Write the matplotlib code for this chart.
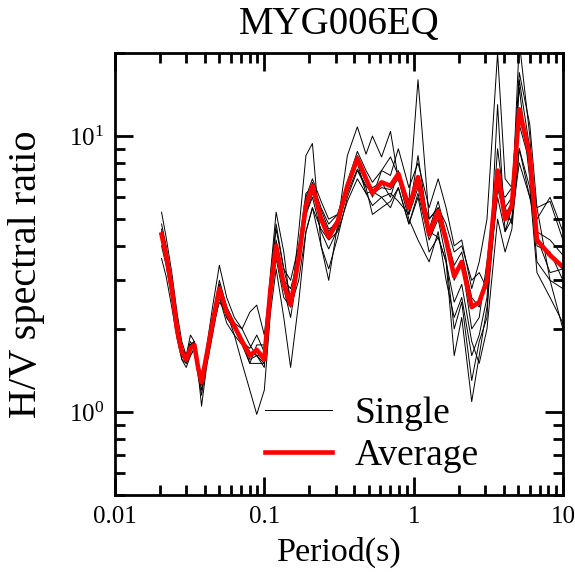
import matplotlib
matplotlib.use('Agg')
import matplotlib.pyplot as plt
from matplotlib.ticker import LogLocator, NullFormatter, FixedLocator, FixedFormatter

plt.rcParams['font.family'] = ['Liberation Serif', 'DejaVu Serif']
plt.rcParams['mathtext.fontset'] = 'custom'
plt.rcParams['mathtext.rm'] = 'Liberation Serif'
plt.rcParams['mathtext.it'] = 'Liberation Serif:italic'

# 周期 (s)
period = [0.0205, 0.022, 0.024, 0.026, 0.028, 0.030, 0.032, 0.034, 0.036, 0.038,
          0.041, 0.045, 0.050, 0.056, 0.063, 0.071, 0.080, 0.089, 0.10, 0.11,
          0.12, 0.135, 0.15, 0.17, 0.19, 0.21, 0.24, 0.27, 0.31, 0.36,
          0.42, 0.48, 0.53, 0.61, 0.70, 0.79, 0.93, 1.07, 1.27, 1.46,
          1.65, 1.87, 2.1, 2.45, 2.75, 3.1, 3.65, 4.1, 4.55, 5.1,
          6.0, 6.7, 8.2, 10.0]

# 平均 H/V
average = [4.4, 3.7, 2.8, 2.0, 1.65, 1.55, 1.7, 1.75, 1.45, 1.28,
           1.6, 2.1, 2.8, 2.3, 2.05, 1.8, 1.6, 1.68, 1.55, 2.8,
           4.0, 2.9, 2.45, 3.6, 5.6, 6.6, 5.0, 4.3, 4.9, 6.6,
           8.3, 7.0, 6.2, 6.8, 6.6, 7.3, 5.5, 7.1, 4.4, 5.35,
           4.2, 3.1, 3.5, 2.4, 2.5, 3.0, 7.5, 5.0, 5.6, 12.5,
           8.5, 4.2, 3.7, 3.35]

# 各記録の H/V
single_1 = [5.3, 4.3, 3.2, 2.3, 1.8, 1.6, 1.9, 1.8, 1.5, 1.3,
            1.7, 2.4, 3.4, 2.6, 2.2, 2.0, 1.75, 1.6, 1.5, 3.2,
            5.3, 3.8, 2.4, 4.5, 8.5, 9.4, 4.0, 3.0, 4.8, 8.5,
            10.8, 8.6, 10.0, 8.4, 10.4, 7.0, 5.0, 4.2, 3.5, 4.5,
            3.0, 2.2, 2.6, 1.6, 1.9, 2.6, 9.0, 5.5, 6.0, 17.0,
            11.0, 5.5, 3.0, 2.8]
single_2 = [4.6, 3.8, 2.9, 2.0, 1.6, 1.5, 1.65, 1.8, 1.4, 1.2,
            1.5, 2.0, 2.5, 2.3, 1.9, 1.5, 1.2, 0.98, 1.2, 2.3,
            3.3, 2.2, 1.45, 2.5, 4.5, 5.5, 4.0, 3.3, 4.3, 6.0,
            7.5, 6.5, 5.2, 5.5, 5.8, 6.5, 4.8, 6.0, 3.8, 4.3,
            3.5, 2.5, 2.9, 1.8, 1.5, 2.0, 5.0, 3.8, 4.6, 9.0,
            6.5, 3.2, 2.6, 2.1]
single_3 = [4.0, 3.4, 2.6, 1.9, 1.7, 1.6, 1.75, 1.8, 1.5, 1.35,
            1.65, 2.2, 2.9, 2.4, 2.1, 2.0, 2.3, 2.44, 1.9, 3.0,
            4.6, 3.3, 2.6, 3.6, 5.5, 6.8, 5.5, 4.8, 5.2, 6.8,
            8.5, 7.2, 6.0, 7.5, 8.4, 7.2, 5.8, 16.0, 5.0, 5.5,
            4.8, 3.8, 4.0, 3.0, 3.2, 2.8, 6.0, 4.5, 5.0, 9.0,
            6.0, 4.5, 4.2, 3.7]
single_4 = [4.8, 4.0, 3.0, 2.1, 1.55, 1.45, 1.6, 1.7, 1.35, 1.15,
            1.5, 2.0, 2.6, 2.2, 2.0, 1.85, 1.65, 1.6, 1.45, 2.9,
            4.2, 3.0, 2.6, 3.8, 6.0, 7.0, 5.8, 5.0, 5.2, 6.6,
            8.0, 6.2, 5.6, 6.0, 5.5, 6.5, 4.8, 6.2, 4.2, 5.0,
            3.6, 2.0, 2.5, 1.3, 1.8, 2.2, 13.0, 4.5, 5.5, 22.0,
            10.0, 4.0, 3.8, 3.0]
single_5 = [3.6, 3.1, 2.4, 1.85, 1.55, 1.5, 1.6, 1.7, 1.4, 1.05,
            1.45, 1.9, 2.6, 2.1, 1.9, 1.75, 1.5, 1.5, 1.5, 2.5,
            3.6, 2.6, 2.4, 3.0, 4.5, 5.5, 4.6, 4.2, 4.5, 5.8,
            7.0, 6.2, 6.3, 6.0, 6.2, 5.8, 5.2, 8.5, 4.5, 4.3,
            3.5, 1.6, 2.2, 1.09, 1.6, 2.4, 6.5, 6.0, 6.5, 15.0,
            7.0, 3.5, 3.0, 2.0]
single_6 = [4.2, 3.6, 2.7, 2.0, 1.7, 1.6, 1.8, 1.7, 1.5, 1.3,
            1.6, 2.2, 3.0, 2.4, 2.1, 1.8, 1.7, 1.9, 1.65, 3.1,
            4.8, 3.3, 3.0, 4.0, 6.2, 6.5, 5.2, 4.5, 5.0, 6.8,
            8.8, 7.5, 6.8, 7.5, 7.2, 9.0, 6.5, 8.0, 5.5, 7.0,
            5.5, 4.0, 4.2, 2.8, 3.5, 5.0, 20.0, 7.0, 6.5, 11.0,
            8.0, 5.5, 5.8, 4.2]
single_7 = [4.5, 3.8, 2.8, 2.0, 1.65, 1.55, 1.7, 1.8, 1.45, 1.25,
            1.6, 2.1, 2.7, 2.3, 2.0, 1.8, 1.55, 1.6, 1.6, 2.7,
            3.8, 2.8, 2.2, 3.4, 5.2, 6.0, 4.5, 3.9, 4.6, 6.4,
            8.0, 6.8, 6.5, 6.8, 6.0, 7.5, 5.2, 6.5, 4.6, 5.8,
            4.4, 3.0, 3.5, 2.0, 2.2, 3.5, 7.5, 5.5, 4.8, 16.0,
            9.0, 4.3, 3.2, 3.3]
single_8 = [4.3, 3.6, 2.8, 2.0, 1.7, 1.6, 1.75, 1.8, 1.5, 1.3,
            1.55, 2.0, 2.7, 2.2, 2.0, 1.8, 1.5, 1.75, 1.75, 2.8,
            3.9, 3.0, 2.8, 3.6, 5.2, 6.2, 5.4, 4.6, 4.8, 6.2,
            7.6, 6.6, 6.2, 6.5, 6.4, 7.0, 5.8, 6.8, 5.0, 5.5,
            4.4, 3.4, 3.8, 2.6, 2.4, 3.0, 6.5, 5.0, 5.0, 8.0,
            6.0, 5.0, 6.0, 4.5]

singles = [single_1, single_2, single_3, single_4, single_5, single_6, single_7, single_8]

fig = plt.figure(figsize=(5.75, 5.72), dpi=100)
ax = fig.add_axes([0.2, 0.1346, 0.779, 0.7727])

for s in singles:
    ax.plot(period, s, color='black', lw=0.7)
ax.plot(period, average, color='red', lw=3.3)

ax.set_xscale('log')
ax.set_yscale('log')
ax.set_xlim(0.01, 10)
ax.set_ylim(0.5, 20)

ax.xaxis.set_major_locator(FixedLocator([0.01, 0.1, 1, 10]))
ax.xaxis.set_major_formatter(FixedFormatter(['0.01', '0.1', '1', '10']))
ax.xaxis.set_minor_locator(LogLocator(base=10, subs=range(2, 10)))
ax.xaxis.set_minor_formatter(NullFormatter())
ax.yaxis.set_major_locator(FixedLocator([1, 10]))
ax.yaxis.set_major_formatter(FixedFormatter([r'$10^0$', r'$10^1$']))
ax.yaxis.set_minor_locator(LogLocator(base=10, subs=range(2, 10)))
ax.yaxis.set_minor_formatter(NullFormatter())

ax.tick_params(which='both', direction='in', top=True, right=True, width=2)
ax.tick_params(which='major', length=13, labelsize=18, pad=8)
ax.tick_params(which='minor', length=7)
for sp in ax.spines.values():
    sp.set_linewidth(2)

ax.set_xlabel('Period(s)', fontsize=24.5, labelpad=6)
ax.set_ylabel('H/V spectral ratio', fontsize=29)
ax.yaxis.set_label_coords(-0.156, 0.5)
ax.set_title('MYG006EQ', fontsize=28, pad=14)

# 凡例
ax.plot([], [], color='black', lw=0.7, label='Single')
ax.plot([], [], color='red', lw=3.3, label='Average')
h, l = ax.get_legend_handles_labels()
ax.legend(h[-2:], l[-2:], loc='center left', bbox_to_anchor=(0.335, 0.136),
          frameon=False, fontsize=27, handlelength=1.79, labelspacing=0.2,
          handletextpad=0.6, borderpad=0, borderaxespad=0)

fig.savefig('out.png', dpi=100)
